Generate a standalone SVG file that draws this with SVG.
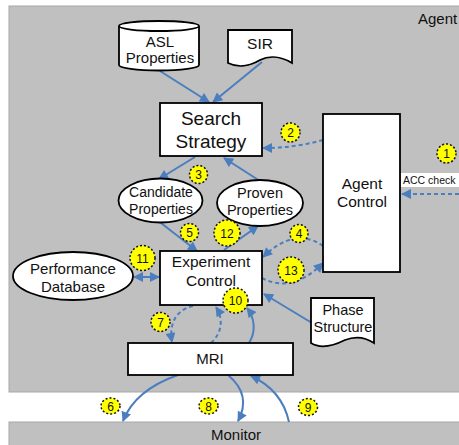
<svg xmlns="http://www.w3.org/2000/svg" width="459" height="445" viewBox="0 0 459 445">
<style>
.node{fill:#fff;stroke:#000;stroke-width:1.8}
.t{font-family:"Liberation Sans",Arial,sans-serif;fill:#111;text-anchor:middle}
.c{fill:none;stroke:#4a7ebf;stroke-width:2}
.d{stroke-dasharray:4,3}
.b{fill:#ffff00;stroke:#111;stroke-width:1.5;stroke-dasharray:2,2}
.bt{font-family:"Liberation Sans",Arial,sans-serif;font-size:12px;fill:#111;text-anchor:middle}
</style>
<defs>
<marker id="ah" viewBox="0 0 10 10" refX="9" refY="5" markerWidth="11" markerHeight="10" markerUnits="userSpaceOnUse" orient="auto-start-reverse">
<path d="M0,0 L10,5 L0,10 Z" fill="#4a7ebf"/>
</marker>
</defs>
<rect width="459" height="445" fill="#fff"/>
<rect id="agent" x="9" y="6" width="460" height="386" fill="#c0c0c0" stroke="#a8a8a8" stroke-width="1"/>
<text class="t" x="418" y="24" font-size="15" style="text-anchor:start">Agent</text>
<g id="monitor">
<rect x="9" y="422" width="460" height="30" fill="#c0c0c0" stroke="#a8a8a8" stroke-width="1"/>
<text class="t" x="236" y="440" font-size="15">Monitor</text>
</g>
<g id="connectors">
<path class="c" d="M160,71 L209,102" marker-end="url(#ah)"/>
<path class="c" d="M262,62 L213,102" marker-end="url(#ah)"/>
<path class="c d" d="M323,140 Q295,148 263,148" marker-end="url(#ah)"/>
<path class="c d" d="M459,194 L402,194" marker-end="url(#ah)"/>
<path class="c" d="M195,157 L159,179" marker-end="url(#ah)"/>
<path class="c" d="M260,181 L224,158" marker-end="url(#ah)"/>
<path class="c" d="M161,223 L197,251" marker-end="url(#ah)"/>
<path class="c" d="M224,250 L258,226" marker-end="url(#ah)"/>
<path class="c d" d="M323,246 Q295,226 263,257" marker-end="url(#ah)"/>
<path class="c d" d="M262,278 Q292,294 323,263" marker-end="url(#ah)"/>
<path class="c" d="M134,277 L159,277" marker-start="url(#ah)" marker-end="url(#ah)"/>
<path class="c" d="M312,323 L264,294" marker-end="url(#ah)"/>
<path class="c d" d="M193,306 C175,310 169,325 172,342" marker-end="url(#ah)"/>
<path class="c d" d="M211,343 C223,332 223,318 216,307" marker-end="url(#ah)"/>
<path class="c" d="M249,343 C256,332 255,318 247,308" marker-end="url(#ah)"/>
<path class="c" d="M178,375 Q135,390 123,421" marker-end="url(#ah)"/>
<path class="c" d="M228,375 Q252,395 238,421" marker-end="url(#ah)"/>
<path class="c" d="M289,422 Q282,390 251,376" marker-end="url(#ah)"/>
</g>
<g id="acc">
<rect x="401" y="173" width="60" height="14" fill="#fff"/>
<text class="t" x="403" y="184" font-size="10.5" style="text-anchor:start">ACC check</text>
</g>
<g id="asl">
<path class="node" d="M119,26 A40,5 0 0,1 199,26 V65 A40,5.5 0 0,1 119,65 Z"/>
<path d="M119,26 A40,5 0 0,0 199,26" fill="none" stroke="#000" stroke-width="1.8"/>
<text class="t" x="160" y="47" font-size="15">ASL</text>
<text class="t" x="160" y="63" font-size="15">Properties</text>
</g>
<g id="sir">
<path class="node" d="M228,30 H292 V63 C282,57 270,55 260,60 C250,66 238,68 228,63 Z"/>
<text class="t" x="260" y="49" font-size="15.5">SIR</text>
</g>
<g id="search">
<rect class="node" x="160" y="103" width="102" height="53"/>
<text class="t" x="211" y="125" font-size="19">Search</text>
<text class="t" x="211" y="148" font-size="19">Strategy</text>
</g>
<g id="agentcontrol">
<rect class="node" x="323" y="114" width="77" height="158"/>
<text class="t" x="362" y="189" font-size="15.5">Agent</text>
<text class="t" x="362" y="207" font-size="15.5">Control</text>
</g>
<g id="candidate">
<ellipse class="node" cx="160.5" cy="200.5" rx="42" ry="22"/>
<text class="t" x="161" y="197" font-size="14">Candidate</text>
<text class="t" x="161" y="214" font-size="14">Properties</text>
</g>
<g id="proven">
<ellipse class="node" cx="260" cy="203" rx="43" ry="23"/>
<text class="t" x="260" y="198" font-size="14.5">Proven</text>
<text class="t" x="260" y="215" font-size="14.5">Properties</text>
</g>
<g id="perf">
<ellipse class="node" cx="73" cy="276" rx="60" ry="24"/>
<text class="t" x="73" y="274" font-size="15">Performance</text>
<text class="t" x="73" y="292" font-size="15">Database</text>
</g>
<g id="exp">
<rect class="node" x="160" y="251" width="102" height="54"/>
<text class="t" x="211" y="267" font-size="15.5">Experiment</text>
<text class="t" x="211" y="286" font-size="15.5">Control</text>
</g>
<g id="phase">
<path class="node" d="M311,298 H374 V343 C365,337 355,336 345,340 C335,345 322,350 311,343 Z"/>
<text class="t" x="343" y="315" font-size="14.5">Phase</text>
<text class="t" x="343" y="332" font-size="14.5">Structure</text>
</g>
<g id="mri">
<rect class="node" x="128" y="343" width="165" height="32"/>
<text class="t" x="210" y="364" font-size="15">MRI</text>
</g>
<g id="badges">
<circle class="b" cx="446.5" cy="153.5" r="9.5"/><text class="bt" x="446.5" y="158">1</text>
<circle class="b" cx="290.5" cy="132.5" r="9.5"/><text class="bt" x="290.5" y="137">2</text>
<circle class="b" cx="198.5" cy="174.5" r="9"/><text class="bt" x="198.5" y="179">3</text>
<circle class="b" cx="299" cy="233.5" r="9"/><text class="bt" x="299" y="238">4</text>
<circle class="b" cx="189.5" cy="232.5" r="9"/><text class="bt" x="189.5" y="237">5</text>
<ellipse class="b" cx="110.5" cy="406" rx="9.5" ry="8"/><text class="bt" x="110.5" y="410.5">6</text>
<circle class="b" cx="160.5" cy="322" r="9.5"/><text class="bt" x="160.5" y="326.5">7</text>
<ellipse class="b" cx="208.5" cy="406" rx="9.5" ry="8"/><text class="bt" x="208.5" y="410.5">8</text>
<ellipse class="b" cx="308" cy="407" rx="9.5" ry="8.5"/><text class="bt" x="308" y="411.5">9</text>
<circle class="b" cx="235.5" cy="300.5" r="12.5"/><text class="bt" x="235.5" y="305">10</text>
<circle class="b" cx="142.5" cy="258" r="12.5"/><text class="bt" x="142.5" y="262.5">11</text>
<circle class="b" cx="227" cy="233" r="13"/><text class="bt" x="227" y="237.5">12</text>
<circle class="b" cx="291" cy="270" r="13"/><text class="bt" x="291" y="274.5">13</text>
</g>
</svg>
